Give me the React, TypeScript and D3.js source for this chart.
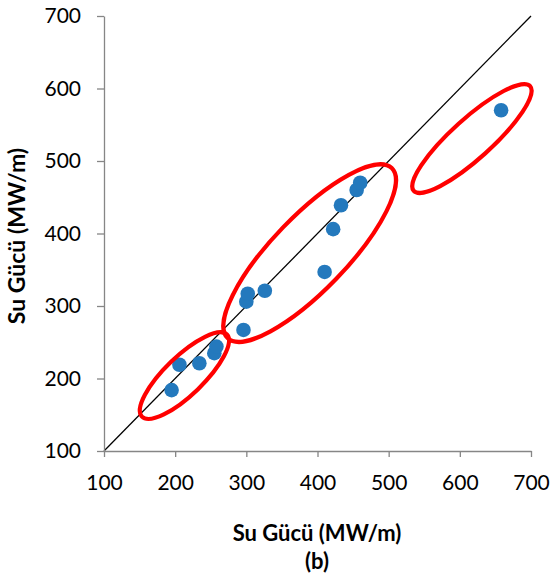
import {useEffect, useRef} from 'react';
import * as d3 from 'd3';

// measured vs. computed water power values (MW/m)
const measured = [195, 206, 234, 255, 258, 296, 300, 302, 326, 410, 422, 433, 455, 460, 658];
const computed = [184, 219, 221, 235, 244, 267, 306, 317, 321, 347, 406, 439, 460, 470, 570];
const ticks = [100, 200, 300, 400, 500, 600, 700];
// highlighted groups: centre and semi-axes in data units, tilt in degrees
const groupCx = [213, 389, 617];
const groupCy = [204, 373, 531];
const groupA = [83, 166, 110];
const groupB = [27, 52, 28];
const groupTilt = [-44, -46, -42];

const axisTitle = 'Su Gücü (MW/m)';
const panelLabel = '(b)';

function App(){
	const ref = useRef<SVGSVGElement>(null);

	useEffect(()=>{
		const svg = d3.select(ref.current);
		svg.selectAll('*').remove();

		const x = d3.scaleLinear().domain([100, 700]).range([104, 531]);
		const y = d3.scaleLinear().domain([100, 700]).range([451, 16]);
		const font = 'Lato, "Open Sans", sans-serif';

		// 1:1 line
		svg.append('line')
			.attr('x1', x(100)).attr('y1', y(100))
			.attr('x2', x(700)).attr('y2', y(700))
			.attr('stroke', '#000').attr('stroke-width', 1.3);

		// axes
		const xAxis = svg.append('g').attr('transform', `translate(0,${y(100)})`)
			.call(d3.axisBottom(x).tickValues(ticks).tickSize(6).tickSizeOuter(0).tickPadding(20));
		const yAxis = svg.append('g').attr('transform', `translate(${x(100)},0)`)
			.call(d3.axisLeft(y).tickValues(ticks).tickSize(7).tickSizeOuter(0).tickPadding(16));
		[xAxis, yAxis].forEach((g)=>{
			g.select('.domain').attr('stroke', '#868686').attr('stroke-width', 1.3);
			g.selectAll('.tick line').attr('stroke', '#868686').attr('stroke-width', 1.3);
			g.selectAll('.tick text').attr('fill', '#000').attr('font-size', 21).attr('font-family', font);
		});
		xAxis.selectAll('.tick text').attr('dy', '0.62em');

		// points
		svg.append('g').selectAll('circle').data(measured).enter().append('circle')
			.attr('cx', (d)=>x(d))
			.attr('cy', (d, i)=>y(computed[i]))
			.attr('r', 7.3)
			.attr('fill', '#2479BD');

		// red ellipses
		svg.append('g').selectAll('ellipse').data(groupCx).enter().append('ellipse')
			.attr('cx', 0).attr('cy', 0)
			.attr('rx', (d, i)=>x(d + groupA[i]) - x(d))
			.attr('ry', (d, i)=>x(d + groupB[i]) - x(d))
			.attr('transform', (d, i)=>`translate(${x(d)},${y(groupCy[i])}) rotate(${groupTilt[i]})`)
			.attr('fill', 'none')
			.attr('stroke', '#FF0000')
			.attr('stroke-width', 4.2);

		// titles
		svg.append('text')
			.attr('x', 317).attr('y', 541)
			.attr('text-anchor', 'middle')
			.attr('font-family', font).attr('font-weight', 'bold').attr('font-size', 22)
			.text(axisTitle);
		svg.append('text')
			.attr('x', 317).attr('y', 569)
			.attr('text-anchor', 'middle')
			.attr('font-family', font).attr('font-weight', 'bold').attr('font-size', 22)
			.text(panelLabel);
		svg.append('text')
			.attr('transform', 'translate(25,236) rotate(-90)')
			.attr('text-anchor', 'middle')
			.attr('font-family', font).attr('font-weight', 'bold').attr('font-size', 23)
			.text(axisTitle);
	}, []);

	return (<svg ref={ref}
	             width={555}
	             height={577}
	             style={{position: 'absolute', left: 0, top: 0, background: '#fff'}}></svg>);
}

export default App;
